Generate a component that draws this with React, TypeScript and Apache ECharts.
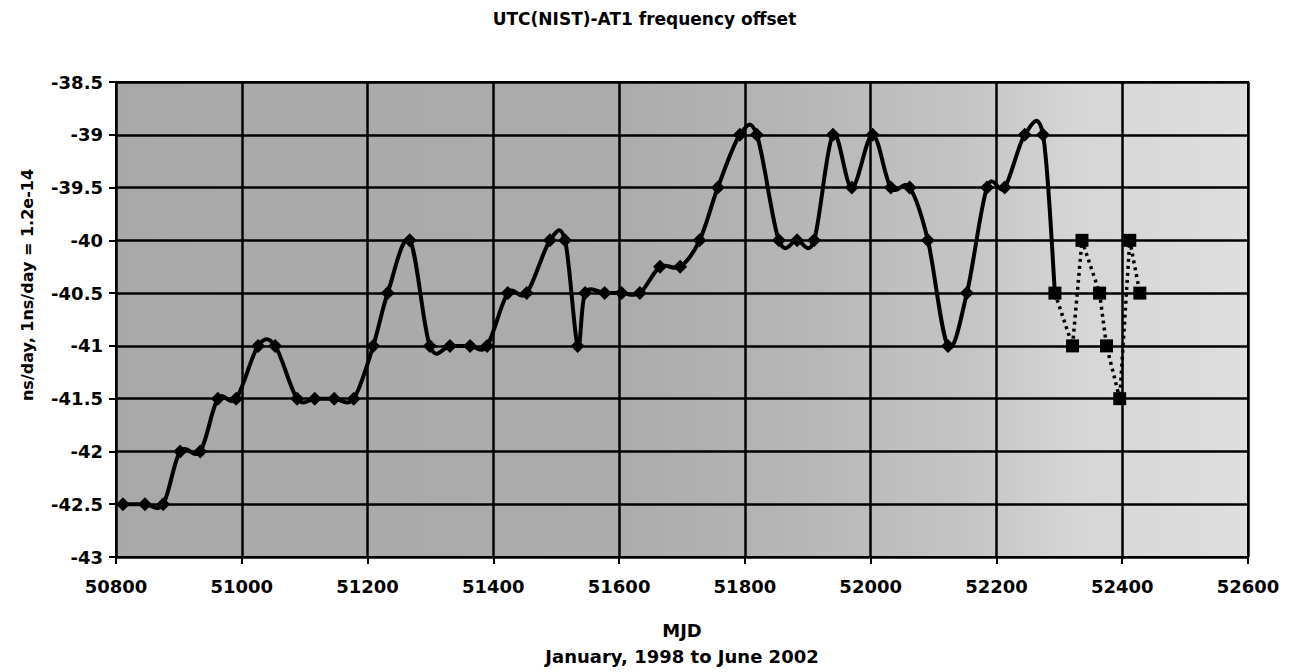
import React, { useEffect, useRef } from "react";
import * as echarts from "echarts";

// Solid series (diamonds): MJD and offset (ns/day)
const solidMjd = [
  50811, 50846, 50875, 50902, 50934, 50962, 50991, 51026, 51053, 51088,
  51116, 51147, 51178, 51209, 51232, 51267, 51299, 51331, 51363, 51390,
  51423, 51453, 51490, 51514, 51534, 51546, 51577, 51604, 51633, 51665,
  51697, 51728, 51757, 51792, 51819, 51854, 51883, 51910, 51940, 51970,
  52003, 52032, 52062, 52091, 52123, 52153, 52185, 52213, 52245, 52274,
  52293,
];
const solidVal = [
  -42.5, -42.5, -42.5, -42, -42, -41.5, -41.5, -41, -41, -41.5,
  -41.5, -41.5, -41.5, -41, -40.5, -40, -41, -41, -41, -41,
  -40.5, -40.5, -40, -40, -41, -40.5, -40.5, -40.5, -40.5, -40.25,
  -40.25, -40, -39.5, -39, -39, -40, -40, -40, -39, -39.5,
  -39, -39.5, -39.5, -40, -41, -40.5, -39.5, -39.5, -39, -39,
  -40.5,
];

// Dotted series (squares)
const dottedMjd = [52293, 52321, 52336, 52364, 52375, 52396, 52412, 52428];
const dottedVal = [-40.5, -41, -40, -40.5, -41, -41.5, -40, -40.5];

const titleText = "UTC(NIST)-AT1 frequency offset";
const yName = "ns/day, 1ns/day = 1.2e-14";
const xName1 = "MJD";
const xName2 = "January, 1998 to June 2002";

const FONT = "'DejaVu Sans', 'Liberation Sans', sans-serif";

export default function App() {
  const ref = useRef<HTMLDivElement>(null);

  useEffect(() => {
    document.body.style.margin = "0";
    if (!ref.current) return;
    const chart = echarts.init(ref.current, null, { renderer: "svg" });

    const solidData = solidMjd.map((m, i) => [m, solidVal[i]]);
    const dottedData = dottedMjd.map((m, i) => [m, dottedVal[i]]);

    const gridLeft = 116;
    const gridRight = 41;
    const gridTop = 82;
    const gridBottom = 115;
    const plotCenterX = gridLeft + (1289 - gridLeft - gridRight) / 2;

    // Excel-like smoothed line (Catmull-Rom through data points, via axis coords)
    const renderSmooth = (params: any, api: any) => {
      if (params.dataIndex !== 0) return { type: "group", children: [] };
      const pts = solidData.map((d) => api.coord(d));
      const n = pts.length;
      let d = `M${pts[0][0]},${pts[0][1]}`;
      for (let i = 0; i < n - 1; i++) {
        const p0 = pts[i - 1] || pts[i];
        const p1 = pts[i];
        const p2 = pts[i + 1];
        const p3 = pts[i + 2] || pts[i + 1];
        const c1x = p1[0] + (p2[0] - p0[0]) / 6;
        const c1y = p1[1] + (p2[1] - p0[1]) / 6;
        const c2x = p2[0] - (p3[0] - p1[0]) / 6;
        const c2y = p2[1] - (p3[1] - p1[1]) / 6;
        d += ` C${c1x},${c1y} ${c2x},${c2y} ${p2[0]},${p2[1]}`;
      }
      return {
        type: "path",
        shape: { pathData: d },
        style: { stroke: "#000", lineWidth: 4, fill: null, lineJoin: "round" },
      };
    };

    chart.setOption({
      animation: false,
      backgroundColor: "#ffffff",
      title: {
        text: titleText,
        left: "center",
        top: 5,
        textStyle: {
          fontFamily: FONT,
          fontWeight: "bold",
          fontSize: 17,
          color: "#000",
        },
      },
      grid: {
        left: gridLeft,
        right: gridRight,
        top: gridTop,
        bottom: gridBottom,
        show: true,
        borderColor: "#000",
        borderWidth: 2,
        backgroundColor: {
          type: "linear",
          x: 0,
          y: 0,
          x2: 1,
          y2: 0,
          colorStops: [
            { offset: 0, color: "#a9a9a9" },
            { offset: 0.45, color: "#acacac" },
            { offset: 0.6, color: "#b6b6b6" },
            { offset: 0.75, color: "#c4c4c4" },
            { offset: 0.85, color: "#d6d6d6" },
            { offset: 1, color: "#dedede" },
          ],
        },
      },
      xAxis: {
        type: "value",
        min: 50800,
        max: 52600,
        interval: 200,
        axisLine: { show: true, lineStyle: { color: "#000", width: 2 } },
        axisTick: { show: true, length: 7, lineStyle: { color: "#000", width: 2 } },
        axisLabel: {
          margin: 20,
          fontFamily: FONT,
          fontWeight: "bold",
          fontSize: 18,
          color: "#000",
          formatter: (v: number) => String(v),
        },
        splitLine: { show: true, lineStyle: { color: "#000", width: 2.5 } },
      },
      yAxis: {
        type: "value",
        min: -43,
        max: -38.5,
        interval: 0.5,
        axisLine: { show: true, lineStyle: { color: "#000", width: 2 } },
        axisTick: { show: true, length: 7, lineStyle: { color: "#000", width: 2 } },
        axisLabel: {
          margin: 13,
          fontFamily: FONT,
          fontWeight: "bold",
          fontSize: 18,
          color: "#000",
          formatter: (v: number) => String(v),
        },
        splitLine: { show: true, lineStyle: { color: "#000", width: 2.5 } },
      },
      graphic: [
        {
          type: "text",
          x: 27,
          y: 285,
          rotation: Math.PI / 2,
          style: {
            text: yName,
            font: `bold 16px ${FONT}`,
            fill: "#000",
            align: "center",
            verticalAlign: "middle",
          },
        },
        {
          type: "text",
          x: plotCenterX,
          y: 630,
          style: {
            text: xName1,
            font: `bold 18px ${FONT}`,
            fill: "#000",
            align: "center",
            verticalAlign: "middle",
          },
        },
        {
          type: "text",
          x: plotCenterX,
          y: 656,
          style: {
            text: xName2,
            font: `bold 18px ${FONT}`,
            fill: "#000",
            align: "center",
            verticalAlign: "middle",
          },
        },
      ],
      series: [
        {
          type: "custom",
          data: solidData,
          encode: { x: 0, y: 1 },
          renderItem: renderSmooth,
          silent: true,
          z: 2,
        },
        {
          type: "line",
          data: solidData,
          symbol: "diamond",
          symbolSize: 14,
          itemStyle: { color: "#000" },
          lineStyle: { opacity: 0, width: 0 },
          z: 3,
        },
        {
          type: "line",
          data: dottedData,
          smooth: false,
          symbol: "rect",
          symbolSize: 13,
          itemStyle: { color: "#000" },
          lineStyle: { color: "#000", width: 3.5, type: [3, 4] },
          z: 4,
        },
      ],
    });

    return () => chart.dispose();
  }, []);

  return <div ref={ref} style={{ width: 1289, height: 672 }} />;
}
